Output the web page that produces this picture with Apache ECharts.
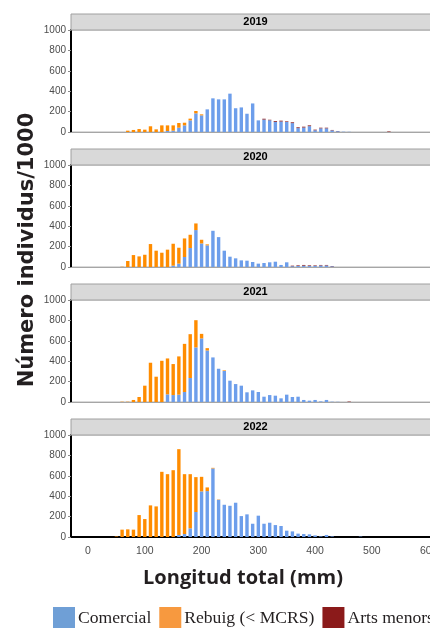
<!DOCTYPE html>
<html>
<head>
<meta charset="utf-8">
<script src="https://cdn.jsdelivr.net/npm/echarts@6/dist/echarts.min.js"></script>
<style>
  html, body { margin: 0; padding: 0; background: #fff; overflow: hidden; }
  #chart { width: 480px; height: 628px; }
</style>
</head>
<body>
<div id="chart"></div>
<script>
// Length classes (mm), 10 mm bins
const bins = [50, 60, 70, 80, 90, 100, 110, 120, 130, 140, 150, 160, 170, 180, 190,
  200, 210, 220, 230, 240, 250, 260, 270, 280, 290, 300, 310, 320, 330, 340, 350,
  360, 370, 380, 390, 400, 410, 420, 430, 440, 450, 460, 470, 480, 490, 500, 510,
  520, 530, 540];

const years = ['2019', '2020', '2021', '2022'];
const seriesNames = ['Comercial', 'Rebuig (< MCRS)', 'Arts menors'];
const xTickLabels = ['0', '100', '200', '300', '400', '500', '600'];
const yTicks = [0, 200, 400, 600, 800, 1000];

// Individuals (thousands) per bin
const comercial2019 = [0, 0, 0, 0, 0, 0, 0, 0, 0, 10, 13, 42, 65, 114, 183,
  163, 222, 330, 320, 320, 376, 233, 241, 179, 280, 114, 122, 115, 100, 103, 98,
  87, 38, 44, 57, 17, 36, 36, 16, 8, 3, 2, 0, 0, 0, 0, 0, 0, 0, 0];
const rebuig2019 = [0, 0, 13, 20, 29, 23, 56, 26, 65, 55, 52, 46, 26, 17, 23,
  10, 0, 0, 0, 0, 0, 0, 0, 0, 0, 0, 0, 0, 0, 0, 0,
  0, 0, 0, 0, 0, 0, 0, 0, 0, 0, 0, 0, 0, 0, 0, 0, 0, 0, 0];
const arts2019 = [0, 0, 0, 0, 0, 0, 0, 0, 0, 0, 0, 0, 0, 0, 0,
  0, 0, 0, 0, 0, 0, 0, 0, 0, 0, 0, 8, 5, 8, 8, 6,
  8, 8, 8, 8, 6, 6, 6, 4, 2, 0, 0, 0, 0, 0, 0, 0, 0, 5, 0];

const comercial2020 = [0, 0, 0, 0, 0, 0, 0, 0, 0, 0, 13, 33, 98, 186, 362,
  231, 212, 355, 293, 160, 101, 85, 65, 62, 49, 33, 39, 46, 52, 20, 46,
  8, 10, 13, 10, 11, 15, 15, 7, 0, 0, 0, 0, 0, 0, 0, 0, 0, 0, 0];
const rebuig2020 = [0, 3, 59, 117, 104, 120, 225, 160, 140, 170, 215, 156, 182, 130, 65,
  36, 10, 0, 0, 0, 0, 0, 0, 0, 0, 0, 0, 0, 0, 0, 0,
  0, 0, 0, 0, 0, 0, 0, 0, 0, 0, 0, 0, 0, 0, 0, 0, 0, 0, 0];
const arts2020 = [0, 0, 0, 0, 0, 0, 0, 0, 0, 0, 0, 0, 0, 0, 0,
  0, 0, 0, 0, 0, 0, 0, 0, 0, 0, 0, 0, 0, 0, 0, 0,
  5, 6, 7, 6, 5, 5, 5, 3, 0, 0, 0, 0, 0, 0, 0, 0, 0, 0, 0];

const comercial2021 = [0, 0, 0, 0, 0, 0, 0, 0, 0, 75, 68, 72, 98, 235, 535,
  623, 505, 437, 326, 304, 209, 176, 160, 95, 114, 98, 52, 68, 62, 36, 72,
  49, 52, 20, 13, 20, 6, 20, 3, 2, 0, 0, 0, 0, 0, 0, 0, 0, 0, 0];
const rebuig2021 = [0, 3, 3, 20, 49, 160, 385, 248, 404, 352, 304, 375, 472, 430, 267,
  45, 23, 0, 0, 6, 0, 0, 0, 0, 0, 0, 0, 0, 0, 0, 0,
  0, 0, 0, 0, 0, 0, 0, 0, 0, 0, 0, 0, 0, 0, 0, 0, 0, 0, 0];
const arts2021 = [0, 0, 0, 0, 0, 0, 0, 0, 0, 0, 0, 0, 0, 0, 0,
  0, 0, 0, 0, 0, 0, 0, 0, 0, 0, 0, 0, 0, 0, 0, 0,
  0, 0, 0, 0, 0, 0, 0, 0, 0, 0, 4, 0, 0, 0, 0, 0, 0, 0, 0];

const comercial2022 = [0, 0, 0, 0, 0, 0, 0, 0, 0, 0, 0, 20, 29, 85, 245,
  447, 450, 672, 365, 316, 306, 336, 205, 222, 130, 209, 130, 140, 117, 108, 62,
  55, 33, 29, 26, 16, 6, 20, 6, 0, 0, 0, 0, 4, 0, 0, 0, 0, 0, 0];
const rebuig2022 = [5, 72, 75, 72, 215, 176, 310, 300, 639, 616, 655, 841, 587, 531, 342,
  143, 36, 6, 3, 0, 0, 0, 0, 0, 0, 0, 0, 0, 0, 0, 0,
  0, 0, 0, 0, 0, 0, 0, 0, 0, 0, 0, 0, 0, 0, 0, 0, 0, 0, 0];
const arts2022 = [0, 0, 0, 0, 0, 0, 0, 0, 0, 0, 0, 0, 0, 0, 0,
  0, 0, 0, 0, 0, 0, 0, 0, 0, 0, 0, 0, 0, 0, 0, 0,
  0, 0, 0, 0, 0, 0, 0, 0, 0, 0, 0, 0, 0, 0, 0, 0, 0, 0, 0];

const panelValues = [
  [comercial2019, rebuig2019, arts2019],
  [comercial2020, rebuig2020, arts2020],
  [comercial2021, rebuig2021, arts2021],
  [comercial2022, rebuig2022, arts2022]
];

const barColors = ['#6d9eeb', '#ff8c00', '#8b1a1a'];
const legendColors = ['#6f9fd6', '#f7993f', '#8b1a1a'];

// x domain: 10 mm slots from -30 to 620 mm, ends on the plot edges
const xSlots = [];
for (let c = -30; c <= 620; c += 10) xSlots.push(String(c));

// Panel geometry
const plotLeft = 71, plotWidth = 369, plotHeight = 102, firstTop = 30, pitch = 135, stripH = 16;
const nPanels = years.length;

const grids = [], xAxes = [], yAxes = [], series = [], graphics = [];

years.forEach((yr, i) => {
  const top = firstTop + pitch * i;
  const last = i === nPanels - 1;
  grids.push({
    left: plotLeft, width: plotWidth, top: top, height: plotHeight,
    show: true, backgroundColor: '#ffffff', borderColor: '#b4b4b4', borderWidth: 1
  });
  xAxes.push({
    gridIndex: i, type: 'category', data: xSlots, boundaryGap: false,
    splitLine: { show: false },
    axisTick: { show: false },
    axisLine: { show: true, onZero: false,
      lineStyle: last ? { color: '#000', width: 2 } : { color: '#a6a6a6', width: 1 } },
    axisLabel: {
      show: last, margin: 9, fontSize: 10.5, color: '#4d4d4d',
      fontFamily: '"Liberation Sans", Arial, sans-serif',
      interval: (idx, val) => xTickLabels.indexOf(val) >= 0
    }
  });
  yAxes.push({
    gridIndex: i, type: 'value', min: yTicks[0], max: yTicks[yTicks.length - 1], interval: 200,
    splitLine: { show: false },
    axisLine: { show: true, lineStyle: { color: '#000', width: 2 } },
    axisTick: { show: true, length: 3, lineStyle: { color: '#8a8a8a' } },
    axisLabel: { fontSize: 10, color: '#4d4d4d', margin: 5,
      fontFamily: '"Liberation Sans", Arial, sans-serif',
      formatter: v => String(v) }
  });
  panelValues[i].forEach((vals, k) => {
    series.push({
      type: 'bar', name: seriesNames[k], xAxisIndex: i, yAxisIndex: i,
      stack: 'panel' + i, barWidth: 3.4,
      itemStyle: { color: barColors[k] },
      emphasis: { disabled: true },
      data: xSlots.map(c => {
        const j = bins.indexOf(Number(c));
        return j < 0 ? 0 : vals[j];
      })
    });
  });
  // Facet strip with year
  graphics.push({
    type: 'rect', z: 10,
    shape: { x: plotLeft, y: top - stripH, width: plotWidth, height: stripH },
    style: { fill: '#d9d9d9', stroke: '#a0a0a0', lineWidth: 1 }
  });
  graphics.push({
    type: 'text', z: 11, x: plotLeft + plotWidth / 2, y: top - stripH / 2,
    style: { text: yr, font: 'bold 11px "Liberation Sans", Arial, sans-serif',
      fill: '#000', align: 'center', verticalAlign: 'middle' }
  });
});

// Axis titles
graphics.push({
  type: 'text', x: 28, y: 250, rotation: Math.PI / 2,
  style: { text: 'Número individus/1000', font: 'bold 21px "DejaVu Sans", sans-serif',
    fill: '#231f20', align: 'center', verticalAlign: 'middle' }
});
graphics.push({
  type: 'text', x: 243, y: 578,
  style: { text: 'Longitud total (mm)', font: 'bold 20px "Open Sans", sans-serif',
    fill: '#231f20', align: 'center', verticalAlign: 'middle' }
});

const chart = echarts.init(document.getElementById('chart'), null, { renderer: 'canvas' });
chart.setOption({
  animation: false,
  backgroundColor: '#ffffff',
  grid: grids,
  xAxis: xAxes,
  yAxis: yAxes,
  series: series,
  graphic: graphics,
  legend: {
    left: 53, top: 607, padding: 0, icon: 'rect', itemWidth: 22, itemHeight: 22, itemGap: 8,
    selectedMode: false,
    textStyle: { fontFamily: '"Liberation Serif", "Times New Roman", serif', fontSize: 17.6,
      color: '#231f20', padding: [0, 0, 0, -2] },
    data: seriesNames.map((n, k) => ({ name: n, itemStyle: { color: legendColors[k] } }))
  }
});
</script>
</body>
</html>
